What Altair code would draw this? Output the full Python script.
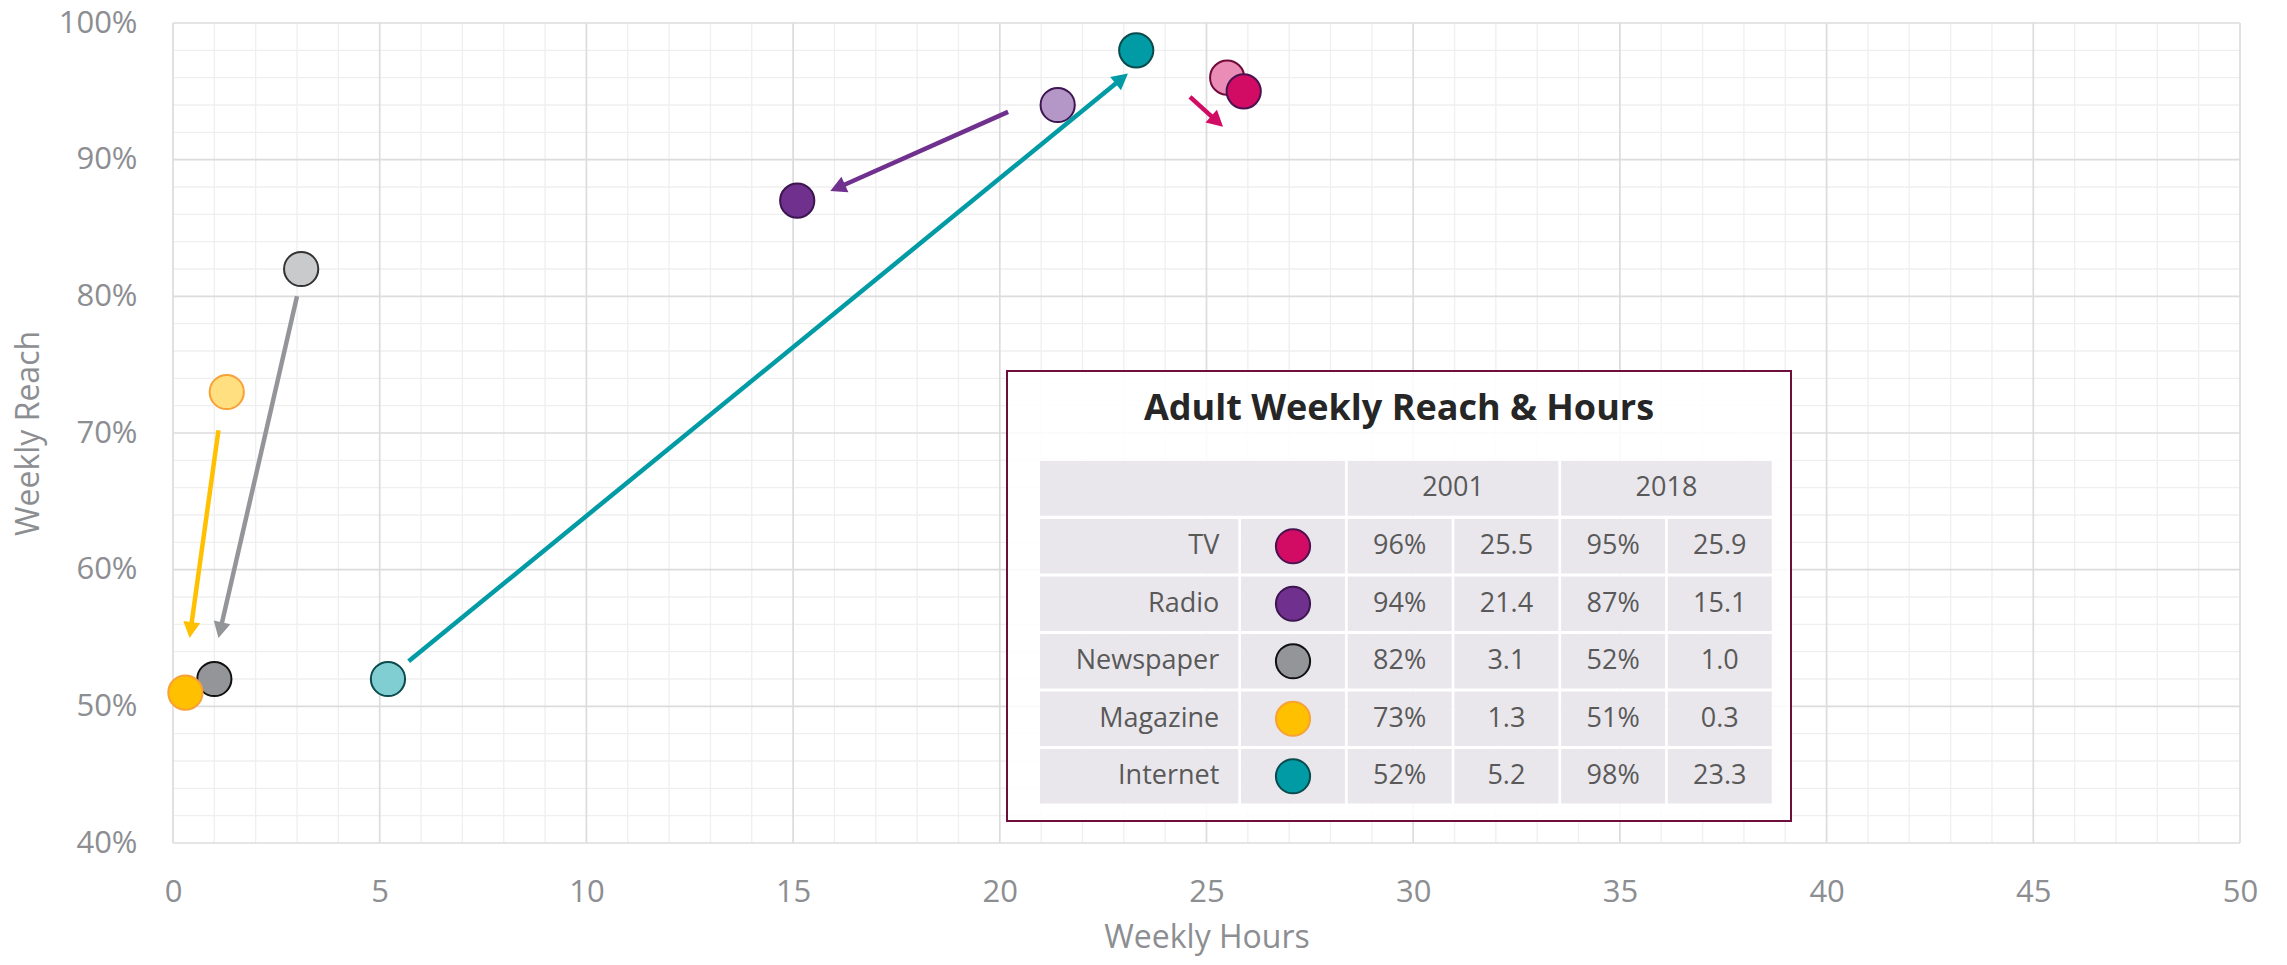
import math
import altair as alt
import pandas as pd

# ---------------- data ----------------
media = ["TV", "Radio", "Newspaper", "Magazine", "Internet"]
reach_2001 = [96, 94, 82, 73, 52]
hours_2001 = [25.5, 21.4, 3.1, 1.3, 5.2]
reach_2018 = [95, 87, 52, 51, 98]
hours_2018 = [25.9, 15.1, 1.0, 0.3, 23.3]

# hand-drawn arrows: start / tip in (hours, reach %)
arrow_x0 = [24.6, 20.2, 3.0, 1.1, 5.7]
arrow_y0 = [94.6, 93.5, 80.0, 70.2, 53.3]
arrow_x1 = [25.4, 15.9, 1.1, 0.4, 23.1]
arrow_y1 = [92.4, 87.7, 55.0, 55.0, 96.3]

x_ticks = [0, 5, 10, 15, 20, 25, 30, 35, 40, 45, 50]
y_ticks = [40, 50, 60, 70, 80, 90, 100]
x_minor = [v for v in range(0, 51) if v % 5]
y_minor = [v for v in range(40, 101, 2) if v % 10]

table_title = "Adult Weekly Reach & Hours"
table_years = ["2001", "2018"]
x_title = "Weekly Hours"
y_title = "Weekly Reach"

# ---------------- styles ----------------
fill_2018 = ["#D20C64", "#70308E", "#939598", "#FFC000", "#009BA4"]
fill_2001 = ["#EA8DB6", "#B497C6", "#C9CACC", "#FFDF80", "#80CDD2"]
stroke_2018 = ["#4A1250", "#3D1550", "#111111", "#F7A136", "#0B4A4D"]
stroke_2001 = ["#730A3A", "#3D1550", "#333333", "#F7A136", "#0B4A4D"]
arrow_colors = ["#D20C64", "#70308E", "#939598", "#FFC000", "#009BA4"]

AXIS_GREY = "#8C8E92"
TEXT_GREY = "#595959"
CELL_FILL = "#E9E7EC"
BOX_STROKE = "#6D0E3B"
FONT = "Open Sans"

# ---------------- layout ----------------
W, H = 2067, 820
PAD = {"left": 165, "top": 15, "right": 39, "bottom": 114}
X_MIN, X_MAX, Y_MIN, Y_MAX = 0, 50, 40, 100
PLOT_LEFT = 8 + PAD["left"]
PLOT_TOP = 8 + PAD["top"]
sx = W / (X_MAX - X_MIN)
sy = H / (Y_MAX - Y_MIN)


def px_x(px):  # page pixel -> hours (for the annotation table)
    return X_MIN + (px - PLOT_LEFT) / sx


def px_y(py):  # page pixel -> reach %
    return Y_MAX - (py - PLOT_TOP) / sy


xs = alt.Scale(domain=[X_MIN, X_MAX], nice=False, zero=False)
ys = alt.Scale(domain=[Y_MIN, Y_MAX], nice=False, zero=False)
x_axis = alt.Axis(values=x_ticks, grid=False, labelPadding=34, titlePadding=15,
                  labelFlush=False)
y_axis = alt.Axis(values=y_ticks, grid=False, labelPadding=36, titlePadding=13,
                  labelExpr="datum.value + '%'", labelFlush=False)
X = alt.X("x:Q", scale=xs, axis=x_axis, title=x_title)
Y = alt.Y("y:Q", scale=ys, axis=y_axis, title=y_title)

# ---------------- grid ----------------
grid_minor_v = alt.Chart(pd.DataFrame({"x": x_minor})).mark_rule(
    color="#EFEFEF", strokeWidth=1.3).encode(x=X)
grid_minor_h = alt.Chart(pd.DataFrame({"y": y_minor})).mark_rule(
    color="#EFEFEF", strokeWidth=1.3).encode(y=Y)
grid_major_v = alt.Chart(pd.DataFrame({"x": x_ticks})).mark_rule(
    color="#DCDCDC", strokeWidth=1.7).encode(x=X)
grid_major_h = alt.Chart(pd.DataFrame({"y": y_ticks})).mark_rule(
    color="#DCDCDC", strokeWidth=1.7).encode(y=Y)

# ---------------- scatter points ----------------
pts = pd.DataFrame({
    "media": media * 2,
    "x": hours_2001 + hours_2018,
    "y": reach_2001 + reach_2018,
    "fill": fill_2001 + fill_2018,
    "stroke": stroke_2001 + stroke_2018,
})
DOT = math.pi * 19.3 ** 2
points = alt.Chart(pts).mark_point(filled=True, shape="circle", opacity=1,
                                   strokeWidth=2, size=DOT).encode(
    x=X, y=Y,
    fill=alt.Fill("fill:N", scale=None),
    stroke=alt.Stroke("stroke:N", scale=None),
)

# ---------------- arrows ----------------
HEAD_W, HEAD_L = 17, 16
rows = []
for i, m in enumerate(media):
    ddx = (arrow_x1[i] - arrow_x0[i]) * sx
    ddy = -(arrow_y1[i] - arrow_y0[i]) * sy
    L = math.hypot(ddx, ddy)
    ux, uy = ddx / L, ddy / L
    ang = math.degrees(math.atan2(ux, -uy)) % 360
    back = HEAD_L - 3
    rows.append({
        "media": m, "x": arrow_x0[i], "y": arrow_y0[i],
        "x2": arrow_x1[i] - back * ux / sx, "y2": arrow_y1[i] + back * uy / sy,
        "tx": arrow_x1[i], "ty": arrow_y1[i],
        "angle": ang, "color": arrow_colors[i],
    })
arr = pd.DataFrame(rows)
arrow_lines = alt.Chart(arr).mark_rule(strokeWidth=4.5).encode(
    x=X, y=Y, x2="x2:Q", y2="y2:Q",
    color=alt.Color("color:N", scale=None),
)
arrow_heads = alt.Chart(arr).mark_point(
    filled=True, opacity=1, shape="M0,0L-1,1.88L1,1.88Z", size=HEAD_W ** 2,
    strokeWidth=0).encode(
    x=alt.X("tx:Q", scale=xs, axis=x_axis, title=x_title),
    y=alt.Y("ty:Q", scale=ys, axis=y_axis, title=y_title),
    angle=alt.Angle("angle:Q", scale=None),
    fill=alt.Fill("color:N", scale=None),
)

# ---------------- annotation table (placed in page pixels) ----------------
BOX = (1007, 371, 1791, 821)
box = alt.Chart(pd.DataFrame([{
    "x": px_x(BOX[0]), "y": px_y(BOX[1]), "x2": px_x(BOX[2]), "y2": px_y(BOX[3])}])
).mark_rect(fill="white", fillOpacity=0.85, stroke=BOX_STROKE, strokeWidth=2).encode(
    x=X, y=Y, x2="x2:Q", y2="y2:Q")

TITLE_POS = (1399, 420)
title = alt.Chart(pd.DataFrame([{"x": px_x(TITLE_POS[0]), "y": px_y(TITLE_POS[1]),
                                 "t": table_title}])).mark_text(
    font=FONT, fontSize=36, fontWeight="bold", color="#262626",
    align="center", baseline="alphabetic").encode(x=X, y=Y, text="t:N")

TABLE_LEFT = 1040
col_w = [198.3, 104, 104, 104, 104, 104]
GAP = 2.7
cols = []
cx = TABLE_LEFT
for w in col_w:
    cols.append((cx, cx + w))
    cx += w + GAP
HEAD_TOP, HEAD_H = 461, 54.7
ROW_TOP, ROW_PITCH, ROW_H = 519, 57.5, 54.5

cells = []
# header cells (merged)
for a, b in [(0, 1), (2, 3), (4, 5)]:
    cells.append({"x": px_x(cols[a][0]), "x2": px_x(cols[b][1]),
                  "y": px_y(HEAD_TOP), "y2": px_y(HEAD_TOP + HEAD_H)})
for r in range(len(media)):
    t = ROW_TOP + r * ROW_PITCH
    for c in cols:
        cells.append({"x": px_x(c[0]), "x2": px_x(c[1]),
                      "y": px_y(t), "y2": px_y(t + ROW_H)})
cell_layer = alt.Chart(pd.DataFrame(cells)).mark_rect(fill=CELL_FILL).encode(
    x=X, y=Y, x2="x2:Q", y2="y2:Q")

centered = []
for k, yr in enumerate(table_years):
    a, b = cols[2 + 2 * k][0], cols[3 + 2 * k][1]
    centered.append({"x": px_x((a + b) / 2), "y": px_y(HEAD_TOP + HEAD_H / 2), "t": yr})
names = []
dots = []
for r, m in enumerate(media):
    cy = ROW_TOP + r * ROW_PITCH + ROW_H / 2
    names.append({"x": px_x(cols[0][1] - 19), "y": px_y(cy), "t": m})
    dots.append({"x": px_x((cols[1][0] + cols[1][1]) / 2), "y": px_y(cy),
                 "fill": fill_2018[r], "stroke": stroke_2018[r]})
    vals = [f"{reach_2001[r]}%", f"{hours_2001[r]:.1f}",
            f"{reach_2018[r]}%", f"{hours_2018[r]:.1f}"]
    for j, v in enumerate(vals):
        c = cols[2 + j]
        centered.append({"x": px_x((c[0] + c[1]) / 2), "y": px_y(cy), "t": v})

text_center = alt.Chart(pd.DataFrame(centered)).mark_text(
    font=FONT, fontSize=27, color=TEXT_GREY, align="center", baseline="middle"
).encode(x=X, y=Y, text="t:N")
text_names = alt.Chart(pd.DataFrame(names)).mark_text(
    font=FONT, fontSize=27, color=TEXT_GREY, align="right", baseline="middle"
).encode(x=X, y=Y, text="t:N")
dot_layer = alt.Chart(pd.DataFrame(dots)).mark_point(
    filled=True, shape="circle", opacity=1, strokeWidth=2, size=DOT).encode(
    x=X, y=Y,
    fill=alt.Fill("fill:N", scale=None),
    stroke=alt.Stroke("stroke:N", scale=None),
)

chart = alt.layer(
    grid_minor_v, grid_minor_h, grid_major_v, grid_major_h,
    box, title, cell_layer, text_center, text_names, dot_layer,
    points, arrow_lines, arrow_heads,
).properties(
    width=W, height=H,
    autosize=alt.AutoSizeParams(type="none"),
    padding=PAD,
).configure_view(stroke=None).configure_axis(
    domain=False, ticks=False,
    labelFont=FONT, labelFontSize=31, labelColor=AXIS_GREY,
    titleFont=FONT, titleFontSize=32, titleColor=AXIS_GREY, titleFontWeight="normal",
)

chart.save("out.html", embed_options={"renderer": "svg", "actions": False})
